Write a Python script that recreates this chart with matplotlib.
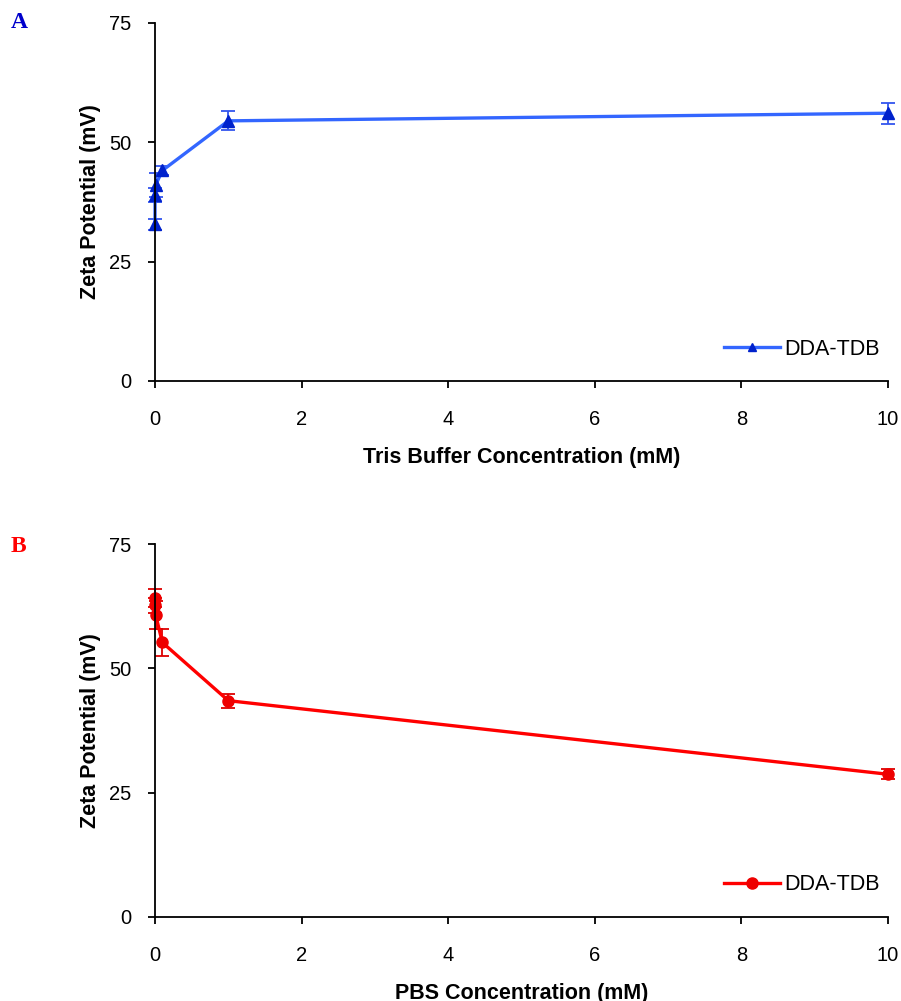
import matplotlib
matplotlib.use("Agg")
import matplotlib.pyplot as plt
from matplotlib.lines import Line2D

plt.rcParams['font.family'] = ['Liberation Sans', 'DejaVu Sans']

# Buffer concentrations (mM)
conc = [0.0001, 0.001, 0.01, 0.1, 1, 10]

# Tris buffer series
tris_zeta = [32.8, 39.0, 41.1, 44.1, 54.5, 56.1]
tris_err = [1.2, 1.5, 2.5, 1.0, 2.0, 2.2]

# PBS series
pbs_zeta = [64.1, 62.7, 60.7, 55.2, 43.5, 28.7]
pbs_err = [1.8, 1.5, 2.8, 2.7, 1.4, 1.0]

y_ticks = [0, 25, 50, 75]
x_ticks = [0, 2, 4, 6, 8, 10]

W, H = 901, 1001
fig = plt.figure(figsize=(W / 100, H / 100), dpi=100)


def px_axes(left, top, right, bottom):
    return fig.add_axes([left / W, 1 - bottom / H, (right - left) / W, (bottom - top) / H])


def style(ax, xlabel, handle):
    ax.set_xlim(0, 10)
    ax.set_ylim(0, 75)
    ax.set_xticks(x_ticks)
    ax.set_yticks(y_ticks)
    for s in ("top", "right"):
        ax.spines[s].set_visible(False)
    for s in ("left", "bottom"):
        ax.spines[s].set_linewidth(1.3)
    ax.tick_params(direction="out", length=5, width=1.3, labelsize=14.5)
    ax.tick_params(axis="x", pad=16)
    ax.tick_params(axis="y", pad=12)
    ax.set_xlabel(xlabel, fontsize=15.5, fontweight="bold", labelpad=13)
    ax.set_ylabel("Zeta Potential (mV)", fontsize=15.5, fontweight="bold", labelpad=6)
    ax.legend(handles=[handle], loc="lower right", frameon=False, fontsize=15.5,
              handlelength=2.6, handletextpad=0.2, bbox_to_anchor=(1.0, 0.035),
              borderaxespad=0)


ax1 = px_axes(155, 23, 888, 381)
ax1.errorbar(conc, tris_zeta, yerr=tris_err, color="#3366ff", lw=2.4,
             marker="^", ms=8, mfc="#0022cc", mec="#0022cc",
             ecolor="#3355ee", elinewidth=1.3, capsize=5, capthick=1.3,
             clip_on=False)
h1 = Line2D([], [], color="#3366ff", lw=2.4, marker="^", ms=6,
            mfc="#0022cc", mec="#0022cc", label="DDA-TDB")
style(ax1, "Tris Buffer Concentration (mM)", h1)

ax2 = px_axes(155, 544, 888, 917)
ax2.errorbar(conc, pbs_zeta, yerr=pbs_err, color="#ff0000", lw=2.4,
             marker="o", ms=8, mfc="#ee0000", mec="#ee0000",
             ecolor="#dd0000", elinewidth=1.3, capsize=5, capthick=1.3,
             clip_on=False)
h2 = Line2D([], [], color="#ff0000", lw=2.4, marker="o", ms=8,
            mfc="#ee0000", mec="#ee0000", label="DDA-TDB")
style(ax2, "PBS Concentration (mM)", h2)

fig.text(11 / W, 1 - 23 / H, "A", color="#0000cc", fontsize=17, fontweight="bold",
         family=["Liberation Serif", "DejaVu Serif"], va="center")
fig.text(11 / W, 1 - 546 / H, "B", color="#ff0000", fontsize=17, fontweight="bold",
         family=["Liberation Serif", "DejaVu Serif"], va="center")

fig.savefig("out.png", dpi=100, facecolor="white")
